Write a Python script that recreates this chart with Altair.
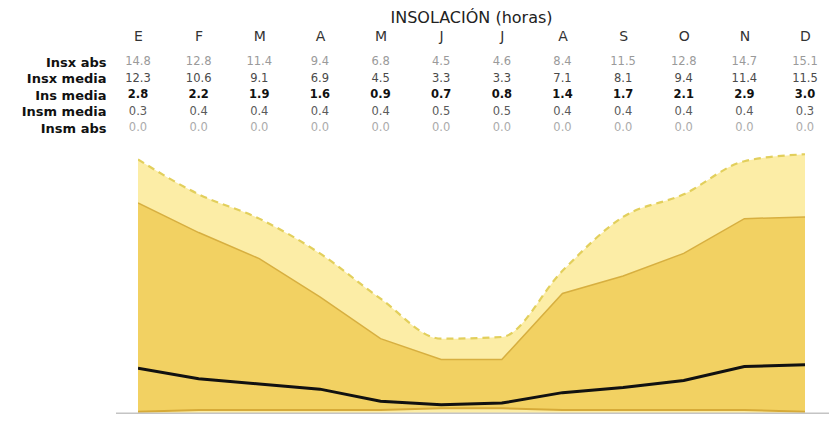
import json
import altair as alt
import pandas as pd

months = ["E", "F", "M", "A", "M", "J", "J", "A", "S", "O", "N", "D"]
insx_abs = [14.8, 12.8, 11.4, 9.4, 6.8, 4.5, 4.6, 8.4, 11.5, 12.8, 14.7, 15.1]
insx_media = [12.3, 10.6, 9.1, 6.9, 4.5, 3.3, 3.3, 7.1, 8.1, 9.4, 11.4, 11.5]
ins_media = [2.8, 2.2, 1.9, 1.6, 0.9, 0.7, 0.8, 1.4, 1.7, 2.1, 2.9, 3.0]
insm_media = [0.3, 0.4, 0.4, 0.4, 0.4, 0.5, 0.5, 0.4, 0.4, 0.4, 0.4, 0.3]
insm_abs = [0.0, 0.0, 0.0, 0.0, 0.0, 0.0, 0.0, 0.0, 0.0, 0.0, 0.0, 0.0]

rows = ["Insx abs", "Insx media", "Ins media", "Insm media", "Insm abs"]
row_colors = ["#9a9a9a", "#4a4a4a", "#111111", "#5a5a5a", "#ababab"]

series = [insx_abs, insx_media, ins_media, insm_media, insm_abs]

wide = pd.DataFrame({
    "i": list(range(12)),
    "mes": months,
    "insx_abs": insx_abs,
    "insx_media": insx_media,
    "ins_media": ins_media,
    "insm_media": insm_media,
    "insm_abs": insm_abs,
})

long_rows = []
for r, vals in zip(rows, series):
    for i, v in enumerate(vals):
        long_rows.append({"i": i, "row": r, "txt": f"{v:.1f}"})
long = pd.DataFrame(long_rows)

label_expr = json.dumps(months) + "[datum.value]"

x_enc = alt.X(
    "i:Q",
    scale=alt.Scale(domain=[0, 11], nice=False, zero=False),
    axis=alt.Axis(
        orient="top", values=list(range(12)), labelExpr=label_expr,
        domain=False, ticks=False, grid=False, labelPadding=0, offset=-12,
        labelBaseline="alphabetic", labelFontSize=14, labelColor="#333333",
        labelFlush=False, labelOverlap=False, title=None,
    ),
)

yscale = alt.Scale(domain=[0.172, 22.356], nice=False, zero=False)


def yq(field):
    return alt.Y(f"{field}:Q", scale=yscale, axis=None)


base = alt.Chart(wide)

light_area = base.mark_area(color="#FCEDA6", interpolate="monotone", clip=True).encode(
    x=x_enc, y=yq("insm_abs"), y2="insx_abs:Q"
)
dashed = base.mark_line(color="#E2CF5C", strokeWidth=2.2, strokeDash=[7, 5],
                        interpolate="monotone", clip=True).encode(x=x_enc, y=yq("insx_abs"))
dark_area = base.mark_area(color="#F2D162", clip=True).encode(
    x=x_enc, y=yq("insm_media"), y2="insx_media:Q"
)
media_line = base.mark_line(color="#D7AF40", strokeWidth=1.5, clip=True).encode(
    x=x_enc, y=yq("insx_media")
)
insm_line = base.mark_line(color="#D6AA38", strokeWidth=2, clip=True).encode(
    x=x_enc, y=yq("insm_media")
)
ins_line = base.mark_line(color="#111111", strokeWidth=3, clip=True).encode(
    x=x_enc, y=yq("ins_media")
)
baseline = base.mark_rule(color="#c4c4c4", strokeWidth=1.5).encode(
    x=alt.value(-22), x2=alt.value(691), y=alt.Y("datum_y:Q", scale=yscale, axis=None)
).transform_calculate(datum_y="0.22").transform_filter("datum.i == 0")

areas = alt.layer(light_area, dark_area, media_line, dashed, insm_line, ins_line, baseline)

y_row = alt.Y(
    "row:N", sort=rows,
    scale=alt.Scale(type="point", range=[34, 100], padding=0),
    axis=alt.Axis(
        orient="left", domain=False, ticks=False, grid=False, labelPadding=2,
        offset=30, labelFontSize=13, labelFontWeight="bold", labelColor="#111111",
        labelBaseline="middle", title=None,
    ),
)
color_enc = alt.Color("row:N", scale=alt.Scale(domain=rows, range=row_colors), legend=None)

tbase = alt.Chart(long)
txt_normal = tbase.mark_text(fontSize=11.5, align="center", baseline="middle").encode(
    x=x_enc, y=y_row, text="txt:N", color=color_enc
).transform_filter("datum.row != 'Ins media'")
txt_bold = tbase.mark_text(fontSize=11.5, fontWeight="bold", align="center",
                           baseline="middle").encode(
    x=x_enc, y=y_row, text="txt:N", color=color_enc
).transform_filter("datum.row == 'Ins media'")

table = alt.layer(txt_normal, txt_bold)

chart = alt.layer(areas, table).resolve_scale(y="independent").properties(
    width=667,
    height=386,
    padding={"left": 130, "top": 20, "right": 24, "bottom": 0},
    autosize=alt.AutoSizeParams(type="none"),
    title=alt.TitleParams(
        "INSOLACIÓN (horas)", fontSize=16, fontWeight="normal", color="#222222",
        anchor="middle", frame="group", baseline="alphabetic", offset=4, dy=15,
    ),
).configure(font="DejaVu Sans").configure_view(stroke=None)

chart.save("out.html", embed_options={"renderer": "svg", "actions": False})
